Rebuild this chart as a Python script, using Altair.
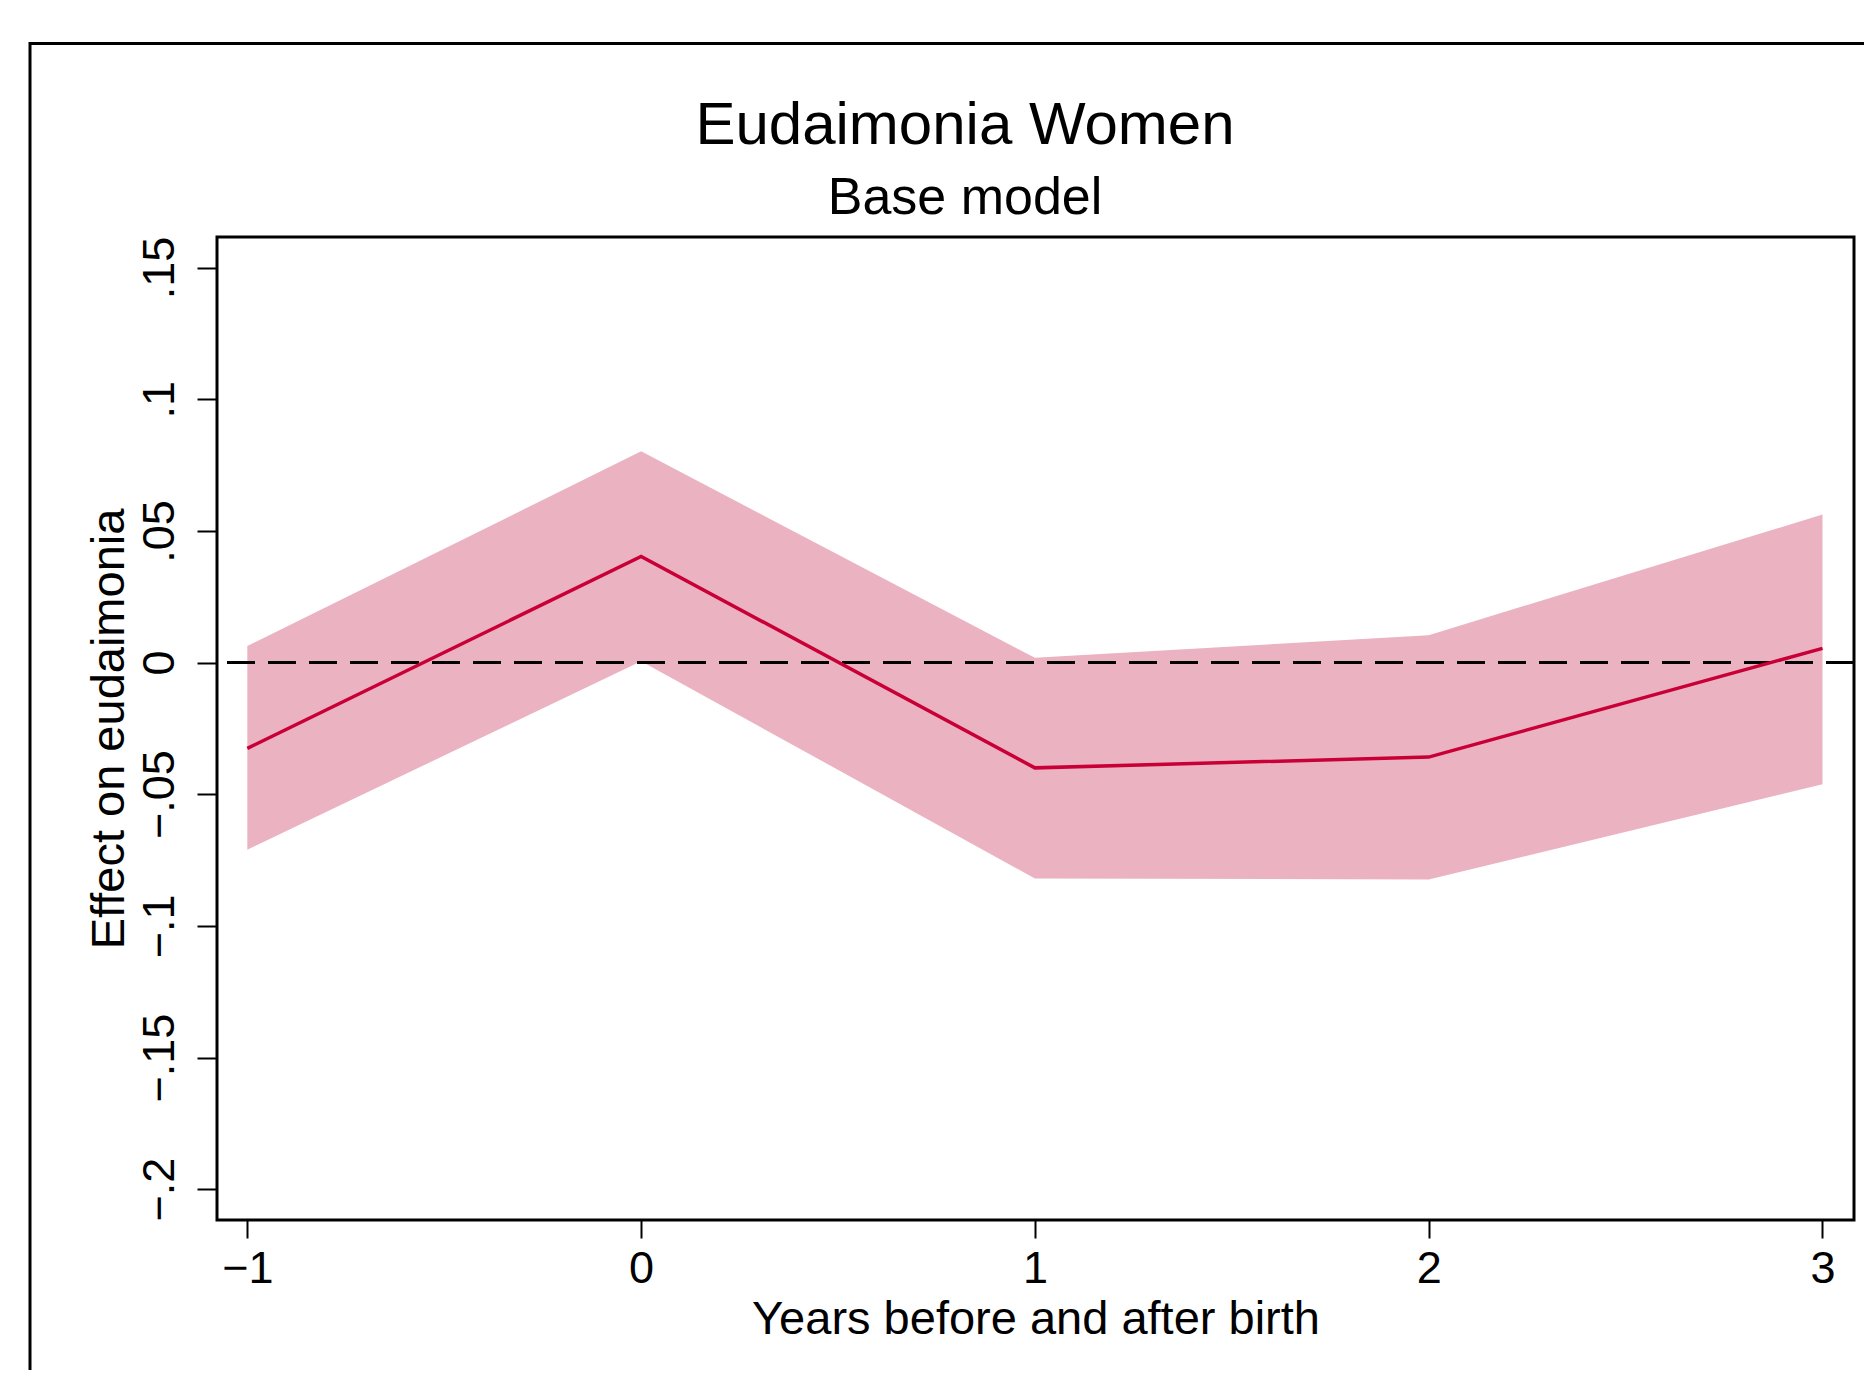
import altair as alt
import pandas as pd

# ---- data ----
years = [-1, 0, 1, 2, 3]
effect = [-0.0326, 0.0403, -0.0400, -0.0359, 0.0054]
ci_upper = [0.0063, 0.0802, 0.0018, 0.0104, 0.0562]
ci_lower = [-0.0711, 0.0005, -0.0820, -0.0824, -0.0462]

x_ticks = [-1, 0, 1, 2, 3]
y_ticks = [-0.2, -0.15, -0.1, -0.05, 0, 0.05, 0.1, 0.15]

title_text = "Eudaimonia Women"
subtitle_text = "Base model"
x_title = "Years before and after birth"
y_title = "Effect on eudaimonia"

FONT = "Liberation Sans"
W, H = 1637, 983

df = pd.DataFrame({"year": years, "effect": effect, "lo": ci_lower, "hi": ci_upper})

xscale = alt.Scale(domain=[-1.077, 3.08], nice=False, zero=False)
yscale = alt.Scale(domain=[-0.2117, 0.1616], nice=False, zero=False)

xaxis = alt.Axis(
    values=x_ticks, format="d", title=x_title, grid=False, domain=False,
    tickSize=18, tickWidth=2, tickColor="black",
    labelFont=FONT, labelFontSize=45, labelColor="black", labelPadding=44,
    labelBaseline="alphabetic", labelFlush=False,
    titleFont=FONT, titleFontSize=47, titleFontWeight="normal", titleColor="black",
    titleBaseline="alphabetic", titleY=113, titleX=W / 2,
)
yaxis = alt.Axis(
    values=y_ticks, title=y_title, grid=False, domain=False,
    labelExpr="replace(format(datum.value, '.2~f'), '0.', '.')",
    tickSize=20, tickWidth=2, tickColor="black",
    labelFont=FONT, labelFontSize=45, labelColor="black", labelPadding=24,
    labelAngle=270, labelAlign="center", labelBaseline="alphabetic", labelFlush=False,
    titleFont=FONT, titleFontSize=47, titleFontWeight="normal", titleColor="black",
    titleAngle=270, titleAlign="center", titleBaseline="alphabetic",
    titleX=-94, titleY=H / 2,
)

base = alt.Chart(df)

band = base.mark_area(color="#EBB3C1", opacity=1).encode(
    x=alt.X("year:Q", scale=xscale, axis=xaxis),
    y=alt.Y("lo:Q", scale=yscale, axis=yaxis),
    y2="hi:Q",
)

zero = alt.Chart(pd.DataFrame({"z": [0]})).mark_rule(
    color="black", strokeWidth=3, strokeDash=[28, 13]
).encode(y=alt.Y("z:Q", scale=yscale))

line = base.mark_line(color="#C90038", strokeWidth=3.5).encode(
    x=alt.X("year:Q", scale=xscale),
    y=alt.Y("effect:Q", scale=yscale),
)

outer = alt.Chart(pd.DataFrame({"a": [0]})).mark_rect(
    filled=False, stroke="black", strokeWidth=3, clip=False
).encode(
    x=alt.value(-187), x2=alt.value(2100), y=alt.value(-193.5), y2=alt.value(1600)
)

title = alt.Chart(pd.DataFrame({"t": [title_text]})).mark_text(
    font=FONT, fontSize=60, color="black", align="center", baseline="alphabetic"
).encode(text="t:N", x=alt.value(748), y=alt.value(-93))

subtitle = alt.Chart(pd.DataFrame({"t": [subtitle_text]})).mark_text(
    font=FONT, fontSize=52, color="black", align="center", baseline="alphabetic"
).encode(text="t:N", x=alt.value(748), y=alt.value(-23))

chart = (
    alt.layer(outer, band, zero, line, title, subtitle)
    .properties(
        width=W,
        height=H,
        autosize=alt.AutoSizeParams(type="none"),
        padding={"left": 209, "top": 229, "right": 10, "bottom": 150},
        background="white",
    )
    .configure_view(stroke="black", strokeWidth=3)
)

chart.save("out.html", embed_options={"renderer": "svg", "actions": False})
